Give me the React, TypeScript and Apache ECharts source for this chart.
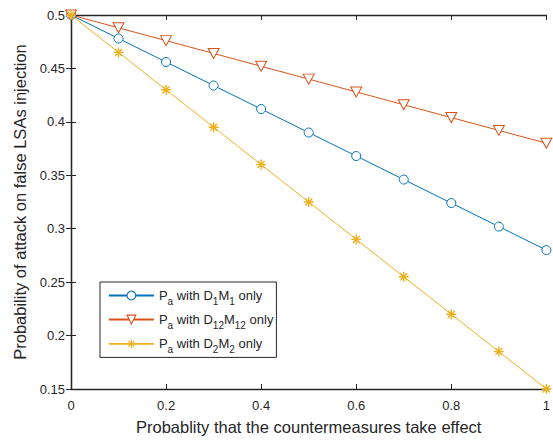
import React, { useEffect, useRef } from "react";
import * as echarts from "echarts";

const xValues = [0, 0.1, 0.2, 0.3, 0.4, 0.5, 0.6, 0.7, 0.8, 0.9, 1];
const seriesD1M1 = [0.5, 0.478, 0.456, 0.434, 0.412, 0.39, 0.368, 0.346, 0.324, 0.302, 0.28];
const seriesD12M12 = [0.5, 0.488, 0.476, 0.464, 0.452, 0.44, 0.428, 0.416, 0.404, 0.392, 0.38];
const seriesD2M2 = [0.5, 0.465, 0.43, 0.395, 0.36, 0.325, 0.29, 0.255, 0.22, 0.185, 0.15];
const legendNames = ["D1M1", "D12M12", "D2M2"];
const legendLabels: Record<string, string> = {
  D1M1: "{n|P}{s|a}{n| with D}{s|1}{n|M}{s|1}{n| only}",
  D12M12: "{n|P}{s|a}{n| with D}{s|12}{n|M}{s|12}{n| only}",
  D2M2: "{n|P}{s|a}{n| with D}{s|2}{n|M}{s|2}{n| only}",
};

const FONT = "Liberation Sans, Arial, Helvetica, sans-serif";
const AX = "#262626";
const asterisk = "path://M5,0L5,10M0,5L10,5M1.5,1.5L8.5,8.5M1.5,8.5L8.5,1.5";

export default function App() {
  const ref = useRef<HTMLDivElement>(null);
  useEffect(() => {
    const chart = echarts.init(ref.current!, null, { renderer: "svg" });
    const mk = (arr: number[]) => xValues.map((x, i) => [x, arr[i]]);
    const common = {
      type: "line",
      lineStyle: { width: 1 },
      symbolSize: 9,
      showAllSymbol: true,
    };
    const tick = { show: true, inside: true, length: 5, lineStyle: { color: AX, width: 1 } };
    const line = { show: true, lineStyle: { color: AX, width: 1.3 } };
    chart.setOption({
      animation: false,
      backgroundColor: "#fff",
      textStyle: { fontFamily: FONT },
      grid: { left: 71, right: 5, top: 15, bottom: 48, containLabel: false },
      legend: {
        orient: "vertical",
        left: 100,
        top: 282,
        data: legendNames,
        itemWidth: 45,
        itemHeight: 11,
        itemGap: 7,
        padding: [7, 3, 3, 8],
        borderColor: AX,
        borderWidth: 1,
        backgroundColor: "#fff",
        lineStyle: { width: 1.8 },
        itemStyle: { borderWidth: 1.1 },
        formatter: (name: string) => legendLabels[name],
        textStyle: {
          color: AX,
          fontFamily: FONT,
          rich: {
            n: { fontSize: 13, color: AX, fontFamily: FONT },
            s: { fontSize: 10, color: AX, fontFamily: FONT, padding: [11, 0, 0, 0] },
          },
        },
      },
      xAxis: [
        {
          type: "value",
          min: 0,
          max: 1,
          interval: 0.2,
          name: "Probablity that the countermeasures take effect",
          nameLocation: "middle",
          nameGap: 29,
          nameTextStyle: { color: AX, fontSize: 16.5, fontFamily: FONT },
          axisLine: line,
          axisTick: tick,
          axisLabel: { color: AX, fontSize: 13, margin: 10, fontFamily: FONT },
          splitLine: { show: false },
        },
        {
          type: "value",
          position: "top",
          min: 0,
          max: 1,
          interval: 0.2,
          axisLine: line,
          axisTick: tick,
          axisLabel: { show: false },
          splitLine: { show: false },
        },
      ],
      yAxis: [
        {
          type: "value",
          min: 0.15,
          max: 0.5,
          interval: 0.05,
          name: "Probability of attack on false LSAs injection",
          nameLocation: "middle",
          nameGap: 41,
          nameTextStyle: { color: AX, fontSize: 16.5, fontFamily: FONT },
          axisLine: line,
          axisTick: tick,
          axisLabel: {
            color: AX,
            fontSize: 13,
            margin: 6,
            fontFamily: FONT,
            formatter: (v: number) => String(Math.round(v * 100) / 100),
          },
          splitLine: { show: false },
        },
        {
          type: "value",
          position: "right",
          min: 0.15,
          max: 0.5,
          interval: 0.05,
          axisLine: line,
          axisTick: tick,
          axisLabel: { show: false },
          splitLine: { show: false },
        },
      ],
      series: [
        {
          ...common,
          name: "D1M1",
          data: mk(seriesD1M1),
          symbol: "circle",
          color: "#0072BD",
          lineStyle: { width: 1, color: "#0072BD" },
          itemStyle: { color: "#fff", borderColor: "#0072BD", borderWidth: 1 },
        },
        {
          ...common,
          name: "D12M12",
          data: mk(seriesD12M12),
          symbol: "triangle",
          symbolRotate: 180,
          symbolSize: [11, 10],
          color: "#D95319",
          lineStyle: { width: 1, color: "#D95319" },
          itemStyle: { color: "#fff", borderColor: "#D95319", borderWidth: 1 },
        },
        {
          ...common,
          name: "D2M2",
          data: mk(seriesD2M2),
          symbol: asterisk,
          symbolSize: 10,
          color: "#EDB120",
          lineStyle: { width: 1, color: "#EDB120" },
          itemStyle: { color: "none", borderColor: "#EDB120", borderWidth: 1.4 },
        },
      ],
    });
    return () => chart.dispose();
  }, []);
  return <div ref={ref} style={{ width: 553, height: 440, position: "absolute", left: 0, top: 0 }} />;
}
